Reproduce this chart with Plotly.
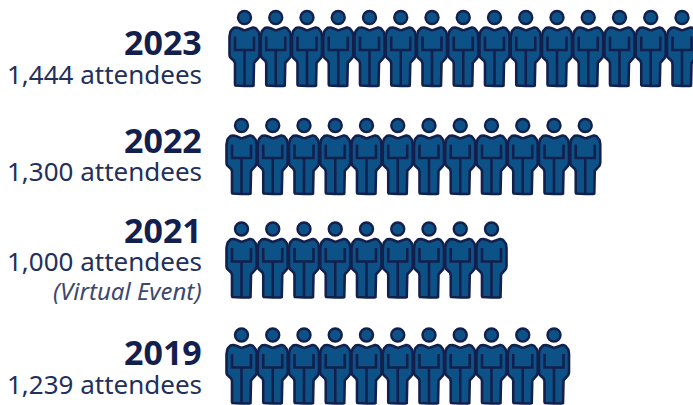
import plotly.graph_objects as go

years = ["2023", "2022", "2021", "2019"]
attendees = ["1,444 attendees", "1,300 attendees", "1,000 attendees", "1,239 attendees"]
notes = ["", "", "(Virtual Event)", ""]
icon_counts = [15, 12, 9, 11]

# layout (pixel) parameters
row_head_y = [17.5, 125.5, 229, 335]
row_first_x = [244.5, 241.5, 241.5, 241.5]
pitch = 31.25
year_y = [42, 140, 230, 352]
att_y = [74, 171, 261, 384]
note_y = [290, None, None, None]
FILL = "#0d5286"
EDGE = "#13204e"


def rounded(points, r):
    """Polyline outline with rounded corners."""
    out = []
    n = len(points)
    for i in range(n):
        p0 = points[i - 1]
        p1 = points[i]
        p2 = points[(i + 1) % n]
        rad = p1[2] if len(p1) > 2 else r

        def toward(a, b, d):
            dx, dy = b[0] - a[0], b[1] - a[1]
            L = (dx * dx + dy * dy) ** 0.5
            d = min(d, L / 2)
            return a[0] + dx / L * d, a[1] + dy / L * d

        a = toward(p1, p0, rad)
        b = toward(p1, p2, rad)
        for k in range(7):
            t = k / 6
            out.append(((1 - t) ** 2 * a[0] + 2 * t * (1 - t) * p1[0] + t * t * b[0],
                        (1 - t) ** 2 * a[1] + 2 * t * (1 - t) * p1[1] + t * t * b[1]))
    out.append(out[0])
    return out


# body glyph relative to head centre (px)
half = [
    (0, 13, 0),
    (7, 10, 2),
    (11, 10, 4),
    (15, 15, 4),
    (15, 40, 3),
    (9.5, 44, 2),
    (9.5, 68.5, 2),
    (0, 68.5, 0),
]
body = half + [(-p[0], p[1], p[2]) for p in reversed(half[1:-1])]
body_outline = rounded(body, 2)
details = [
    [(-9.5, 19), (-9.5, 32.5), (9.5, 32.5), (9.5, 19)],
    [(0, 33), (0, 68)],
]

fig = go.Figure()
for row, n in enumerate(icon_counts):
    for i in range(n):
        cx = row_first_x[row] + i * pitch
        cy = row_head_y[row]
        fig.add_trace(go.Scatter(
            x=[cx + p[0] for p in body_outline], y=[cy + p[1] for p in body_outline],
            mode="lines", fill="toself", fillcolor=FILL,
            line=dict(color=EDGE, width=2.6), hoverinfo="skip", showlegend=False))
        dx, dy = [], []
        for d in details:
            dx += [cx + p[0] for p in d] + [None]
            dy += [cy + p[1] for p in d] + [None]
        fig.add_trace(go.Scatter(x=dx, y=dy, mode="lines",
                                 line=dict(color=EDGE, width=2.6),
                                 hoverinfo="skip", showlegend=False))
    fig.add_trace(go.Scatter(
        x=[row_first_x[row] + i * pitch for i in range(n)], y=[row_head_y[row]] * n,
        mode="markers", marker=dict(size=13, color=FILL, line=dict(color=EDGE, width=2.4)),
        hoverinfo="skip", showlegend=False))

FONT = "Noto Sans"
for row in range(4):
    fig.add_annotation(x=204, y=year_y[row], text=f"<b>{years[row]}</b>", showarrow=False,
                       xanchor="right", yanchor="middle",
                       font=dict(family=FONT, size=34, color="#13204e"))
    fig.add_annotation(x=204, y=att_y[row], text=attendees[row], showarrow=False,
                       xanchor="right", yanchor="middle",
                       font=dict(family=FONT, size=26, color="#22305a"))
for row, note in enumerate(notes):
    if note:
        fig.add_annotation(x=204, y=note_y[0], text=f"<i>{note}</i>", showarrow=False,
                           xanchor="right", yanchor="middle",
                           font=dict(family=FONT, size=24, color="#3c4870"))

fig.update_layout(
    width=693, height=405, margin=dict(l=0, r=0, t=0, b=0), autosize=False,
    paper_bgcolor="white", plot_bgcolor="white", showlegend=False,
    xaxis=dict(range=[0, 693], visible=False, fixedrange=True),
    yaxis=dict(range=[405, 0], visible=False, fixedrange=True),
)
fig.write_html("out.html", config=dict(displayModeBar=False),
               post_script="document.body.style.margin='0';document.documentElement.style.overflow='hidden';")
